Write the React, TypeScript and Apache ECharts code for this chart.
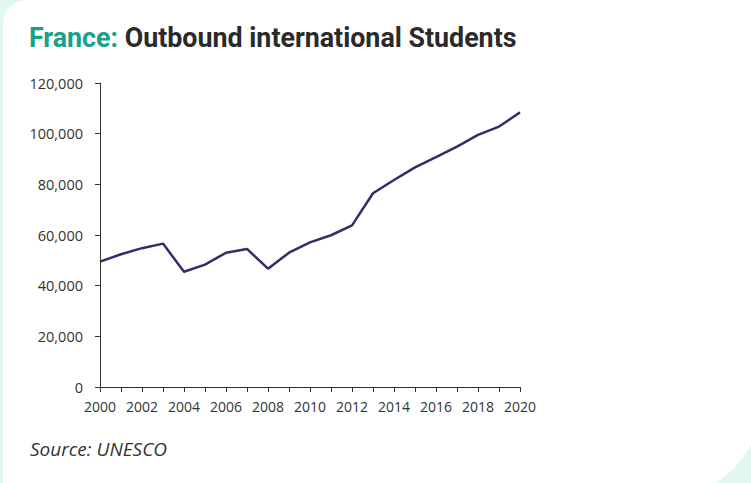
import React, { useEffect, useRef } from "react";
import * as echarts from "echarts";

const years = ["2000","2001","2002","2003","2004","2005","2006","2007","2008","2009","2010","2011","2012","2013","2014","2015","2016","2017","2018","2019","2020"];
const students = [49500, 52400, 54800, 56600, 45500, 48300, 53000, 54500, 46700, 53000, 57100, 59900, 63800, 76500, 81700, 86700, 90700, 94900, 99500, 102800, 108400];
const titleCountry = "France:";
const titleRest = " Outbound international Students";
const sourceText = "Source: UNESCO";

export default function App() {
  const ref = useRef<HTMLDivElement>(null);
  useEffect(() => {
    document.body.style.margin = "0";
    const chart = echarts.init(ref.current!, undefined, { renderer: "svg" });
    chart.setOption({
      animation: false,
      textStyle: { fontFamily: "Open Sans" },
      title: {
        left: 24,
        top: 19,
        text: "{a|" + titleCountry + "}{b|" + titleRest + "}",
        textStyle: {
          rich: {
            a: { fontFamily: "Roboto", fontWeight: 700, fontSize: 26.8, color: "#17a08a" },
            b: { fontFamily: "Roboto", fontWeight: 700, fontSize: 26.8, color: "#2a2a2a" },
          },
        },
      },
      graphic: [
        {
          type: "text",
          left: 30,
          top: 439,
          style: { text: sourceText, fontFamily: "Open Sans", fontStyle: "italic", fontSize: 19, fill: "#333" },
        },
      ],
      grid: { left: 100, right: 231, top: 83, bottom: 96, containLabel: false },
      xAxis: {
        type: "category",
        data: years,
        boundaryGap: false,
        axisLine: { lineStyle: { color: "#333", width: 1 } },
        axisTick: { show: true, interval: 0, length: 5, lineStyle: { color: "#333" } },
        axisLabel: { interval: 1, color: "#333", fontSize: 14, margin: 12 },
        splitLine: { show: false },
      },
      yAxis: {
        type: "value",
        min: 0,
        max: 120000,
        interval: 20000,
        axisLine: { show: true, lineStyle: { color: "#333", width: 1 } },
        axisTick: { show: true, length: 5, lineStyle: { color: "#333" } },
        axisLabel: {
          color: "#333",
          fontSize: 14.5,
          margin: 17,
          formatter: (v: number) => v.toLocaleString("en-US"),
        },
        splitLine: { show: false },
      },
      series: [
        {
          type: "line",
          data: students,
          symbol: "none",
          lineStyle: { color: "#3b2a6b", width: 2.5 },
        },
      ],
    });
    return () => chart.dispose();
  }, []);
  return (
    <div style={{ position: "fixed", left: 0, top: 0, width: 751, height: 483, background: "#e2f7f1", overflow: "hidden" }}>
      <div
        style={{
          position: "absolute",
          left: 3,
          top: 0,
          width: 760,
          height: 500,
          background: "#ffffff",
          borderRadius: "24px 0 104px 0",
        }}
      />
      <div ref={ref} style={{ position: "absolute", left: 0, top: 0, width: 751, height: 483 }} />
    </div>
  );
}
